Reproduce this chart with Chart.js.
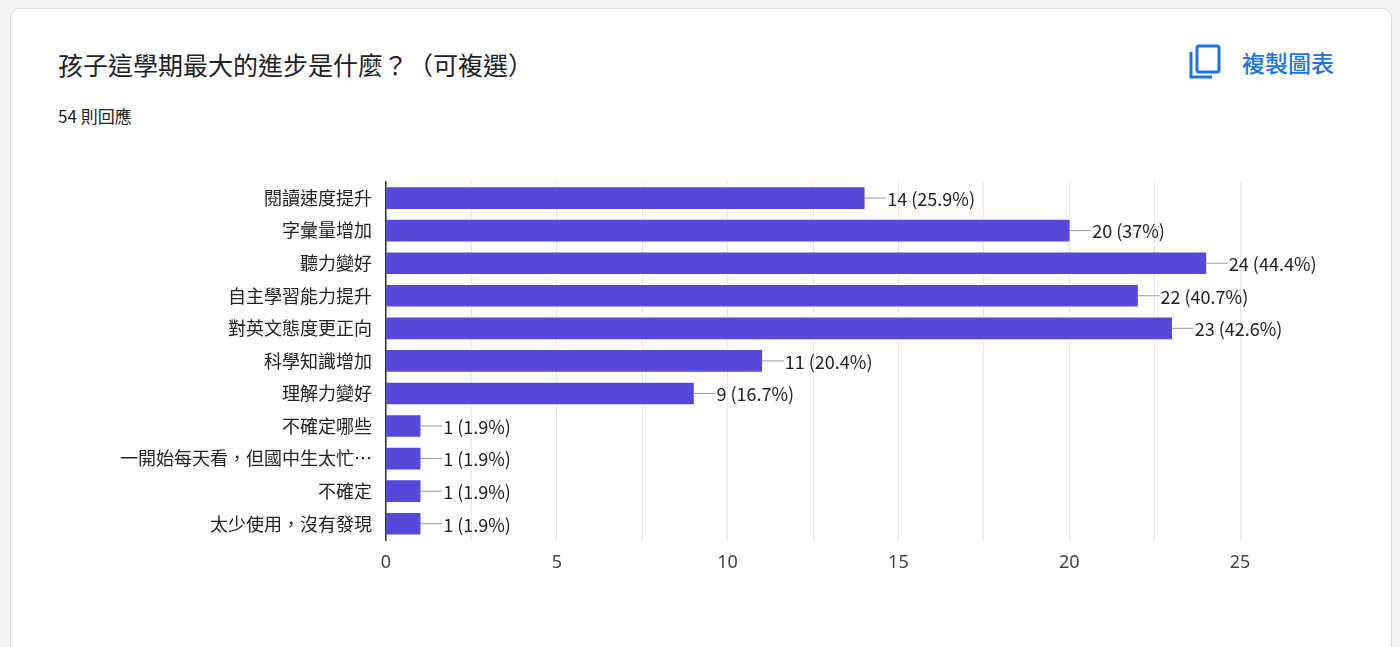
<!DOCTYPE html>
<html><head><meta charset="utf-8">
<script src="https://cdn.jsdelivr.net/npm/chart.js@4"></script>
<style>
body{margin:0;background:#f1f3f4;font-family:"Noto Sans CJK TC","Noto Sans",sans-serif;}
#card{position:absolute;left:10px;top:8px;width:1380px;height:660px;background:#fff;border:1px solid #dadce0;border-radius:10px;}
#title{position:absolute;left:58px;top:46px;font-size:25px;color:#202124;}
#sub{position:absolute;left:58px;top:103px;font-size:17px;color:#202124;}
#copy{position:absolute;left:1188px;top:44px;font-size:23px;color:#1a73e8;display:flex;align-items:center;gap:20px;font-weight:500}
#wrap{position:absolute;left:0;top:165px;width:1400px;height:420px;}
</style></head><body>
<div id="card"></div>
<div id="title">孩子這學期最大的進步是什麼？（可複選）</div>
<div id="sub">54 則回應</div>
<div id="copy"><svg width="34" height="36" viewBox="0 0 34 36"><rect x="9" y="2" width="22" height="26" rx="2" fill="none" stroke="#1a73e8" stroke-width="3"/><path d="M3 8 V33 H24" fill="none" stroke="#1a73e8" stroke-width="3"/></svg><span>複製圖表</span></div>
<div id="wrap"><canvas id="c"></canvas></div>
<script>
const categories=["閱讀速度提升","字彙量增加","聽力變好","自主學習能力提升","對英文態度更正向","科學知識增加","理解力變好","不確定哪些","一開始每天看，但國中生太忙…","不確定","太少使用，沒有發現"];
const counts=[14,20,24,22,23,11,9,1,1,1,1];
const percents=["25.9%","37%","44.4%","40.7%","42.6%","20.4%","16.7%","1.9%","1.9%","1.9%","1.9%"];
const xTicks=[0,5,10,15,20,25];
const labelPlugin={id:'lbl',afterDatasetsDraw(ch){
 const ctx=ch.ctx;const meta=ch.getDatasetMeta(0);
 ctx.save();ctx.font='18px "Noto Sans CJK TC","Noto Sans",sans-serif';ctx.textBaseline='middle';
 meta.data.forEach((b,i)=>{ctx.strokeStyle='#999';ctx.lineWidth=1;ctx.beginPath();ctx.moveTo(b.x,b.y);ctx.lineTo(b.x+22,b.y);ctx.stroke();
 ctx.fillStyle='#222';ctx.fillText(counts[i]+' ('+percents[i]+')',b.x+23,b.y+1);});
 ctx.restore();}};
new Chart(document.getElementById('c'),{type:'bar',
data:{labels:categories,datasets:[{data:counts,backgroundColor:'#5748db',barThickness:21}]},
options:{indexAxis:'y',responsive:true,maintainAspectRatio:false,animation:false,
layout:{padding:{top:0,right:160,left:0,bottom:0}},
plugins:{legend:{display:false},tooltip:{enabled:false}},
scales:{
x:{min:0,max:25,ticks:{stepSize:2.5,color:'#444',padding:12,font:{size:18,family:'"Noto Sans","Noto Sans CJK TC"'},callback:v=>xTicks.includes(v)?v:''},
 grid:{color:'#e6e6e6',drawTicks:false},border:{display:false},afterFit:s=>{s.height=45;}},
y:{ticks:{color:'#222',padding:6,font:{size:18,family:'"Noto Sans CJK TC","Noto Sans",sans-serif'}},grid:{display:false},border:{color:'#333',width:1.5},afterFit:s=>{s.width=386;}}
}},plugins:[labelPlugin]});
</script></body></html>
